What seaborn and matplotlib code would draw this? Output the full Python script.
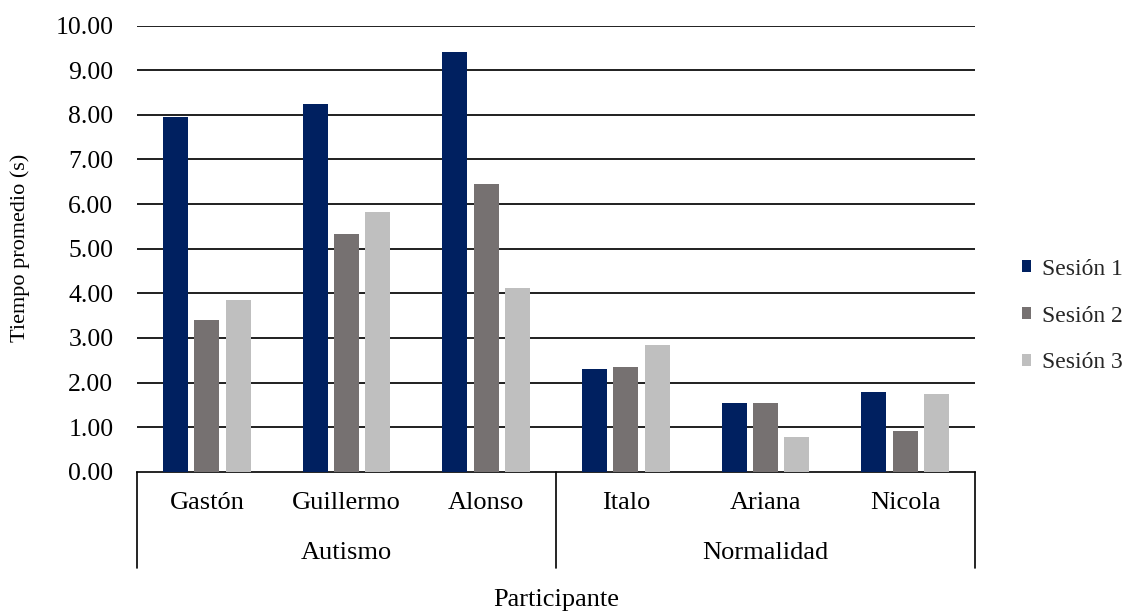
import matplotlib
matplotlib.use("Agg")
import matplotlib.pyplot as plt
import matplotlib.transforms as mtransforms
import seaborn as sns
import pandas as pd

# Average time per participant and session
participantes = ["Gastón", "Guillermo", "Alonso", "Italo", "Ariana", "Nicola"]
grupos = ["Autismo", "Autismo", "Autismo", "Normalidad", "Normalidad", "Normalidad"]
sesiones = ["Sesión 1", "Sesión 2", "Sesión 3"]
sesion_1 = [7.95, 8.24, 9.42, 2.30, 1.53, 1.79]
sesion_2 = [3.40, 5.32, 6.44, 2.34, 1.53, 0.92]
sesion_3 = [3.85, 5.83, 4.11, 2.84, 0.77, 1.74]
y_ticks = [0, 1, 2, 3, 4, 5, 6, 7, 8, 9, 10]

colores = ["#002060", "#767171", "#BFBFBF"]

filas = []
for nombre, valores in zip(sesiones, [sesion_1, sesion_2, sesion_3]):
    for p, v in zip(participantes, valores):
        filas.append({"Participante": p, "Sesión": nombre, "Tiempo": v})
df = pd.DataFrame(filas)

sns.set_theme(style="white")
plt.rcParams["font.family"] = ["Liberation Serif", "DejaVu Serif"]

fig = plt.figure(figsize=(11.31, 6.13), dpi=100)
ax = fig.add_axes([137 / 1131, 1 - 471.7 / 613, 838 / 1131, 446 / 613])

sns.barplot(data=df, x="Participante", y="Tiempo", hue="Sesión",
            order=participantes, hue_order=sesiones, palette=colores,
            width=0.67, gap=0.2, saturation=1, errorbar=None, ax=ax,
            edgecolor="none", zorder=3)

ax.set_xlim(-0.5, len(participantes) - 0.5)
ax.set_ylim(0, 10)
ax.set_yticks(y_ticks)
ax.set_yticklabels([f"{t:.2f}" for t in y_ticks], fontsize=18.5, color="black")
ax.tick_params(axis="y", length=0, pad=17)
ax.set_xticks([])
ax.set_xlabel("")
ax.set_ylabel("")

for t in y_ticks[1:]:
    ax.axhline(t, color="#1f1f1f", lw=1.4, zorder=1)

for s in ["left", "right", "top"]:
    ax.spines[s].set_visible(False)
ax.spines["bottom"].set_color("black")
ax.spines["bottom"].set_linewidth(1.2)

# Two-level category axis
trans = mtransforms.blended_transform_factory(ax.transData, ax.transAxes)
for i, p in enumerate(participantes):
    ax.text(i, -0.070, p, transform=trans, ha="center", va="center",
            fontsize=19, color="black")

orden_grupos = []
for g in grupos:
    if g not in orden_grupos:
        orden_grupos.append(g)
for g in orden_grupos:
    idx = [i for i, gg in enumerate(grupos) if gg == g]
    centro = (idx[0] + idx[-1]) / 2
    ax.text(centro, -0.182, g, transform=trans, ha="center", va="center",
            fontsize=19, color="black")

limites = [-0.5]
for i in range(1, len(grupos)):
    if grupos[i] != grupos[i - 1]:
        limites.append(i - 0.5)
limites.append(len(grupos) - 0.5)
for xb in limites:
    ax.plot([xb, xb], [0, -0.217], transform=trans, color="black",
            lw=1.2, clip_on=False)

fig.text(556 / 1131, 1 - 600 / 613, "Participante", ha="center", va="center",
         fontsize=19, color="black")
fig.text(20 / 1131, 1 - 248 / 613, "Tiempo promedio (s)", ha="center",
         va="center", rotation=90, fontsize=16, color="black")

ax.legend(loc="center left", bbox_to_anchor=(1022 / 1131, 1 - 316 / 613),
          bbox_transform=fig.transFigure, frameon=False, fontsize=17,
          handlelength=0.38, handleheight=0.38, handletextpad=0.45,
          labelspacing=1.1, borderpad=0, borderaxespad=0)

fig.savefig("out.png", dpi=100)
